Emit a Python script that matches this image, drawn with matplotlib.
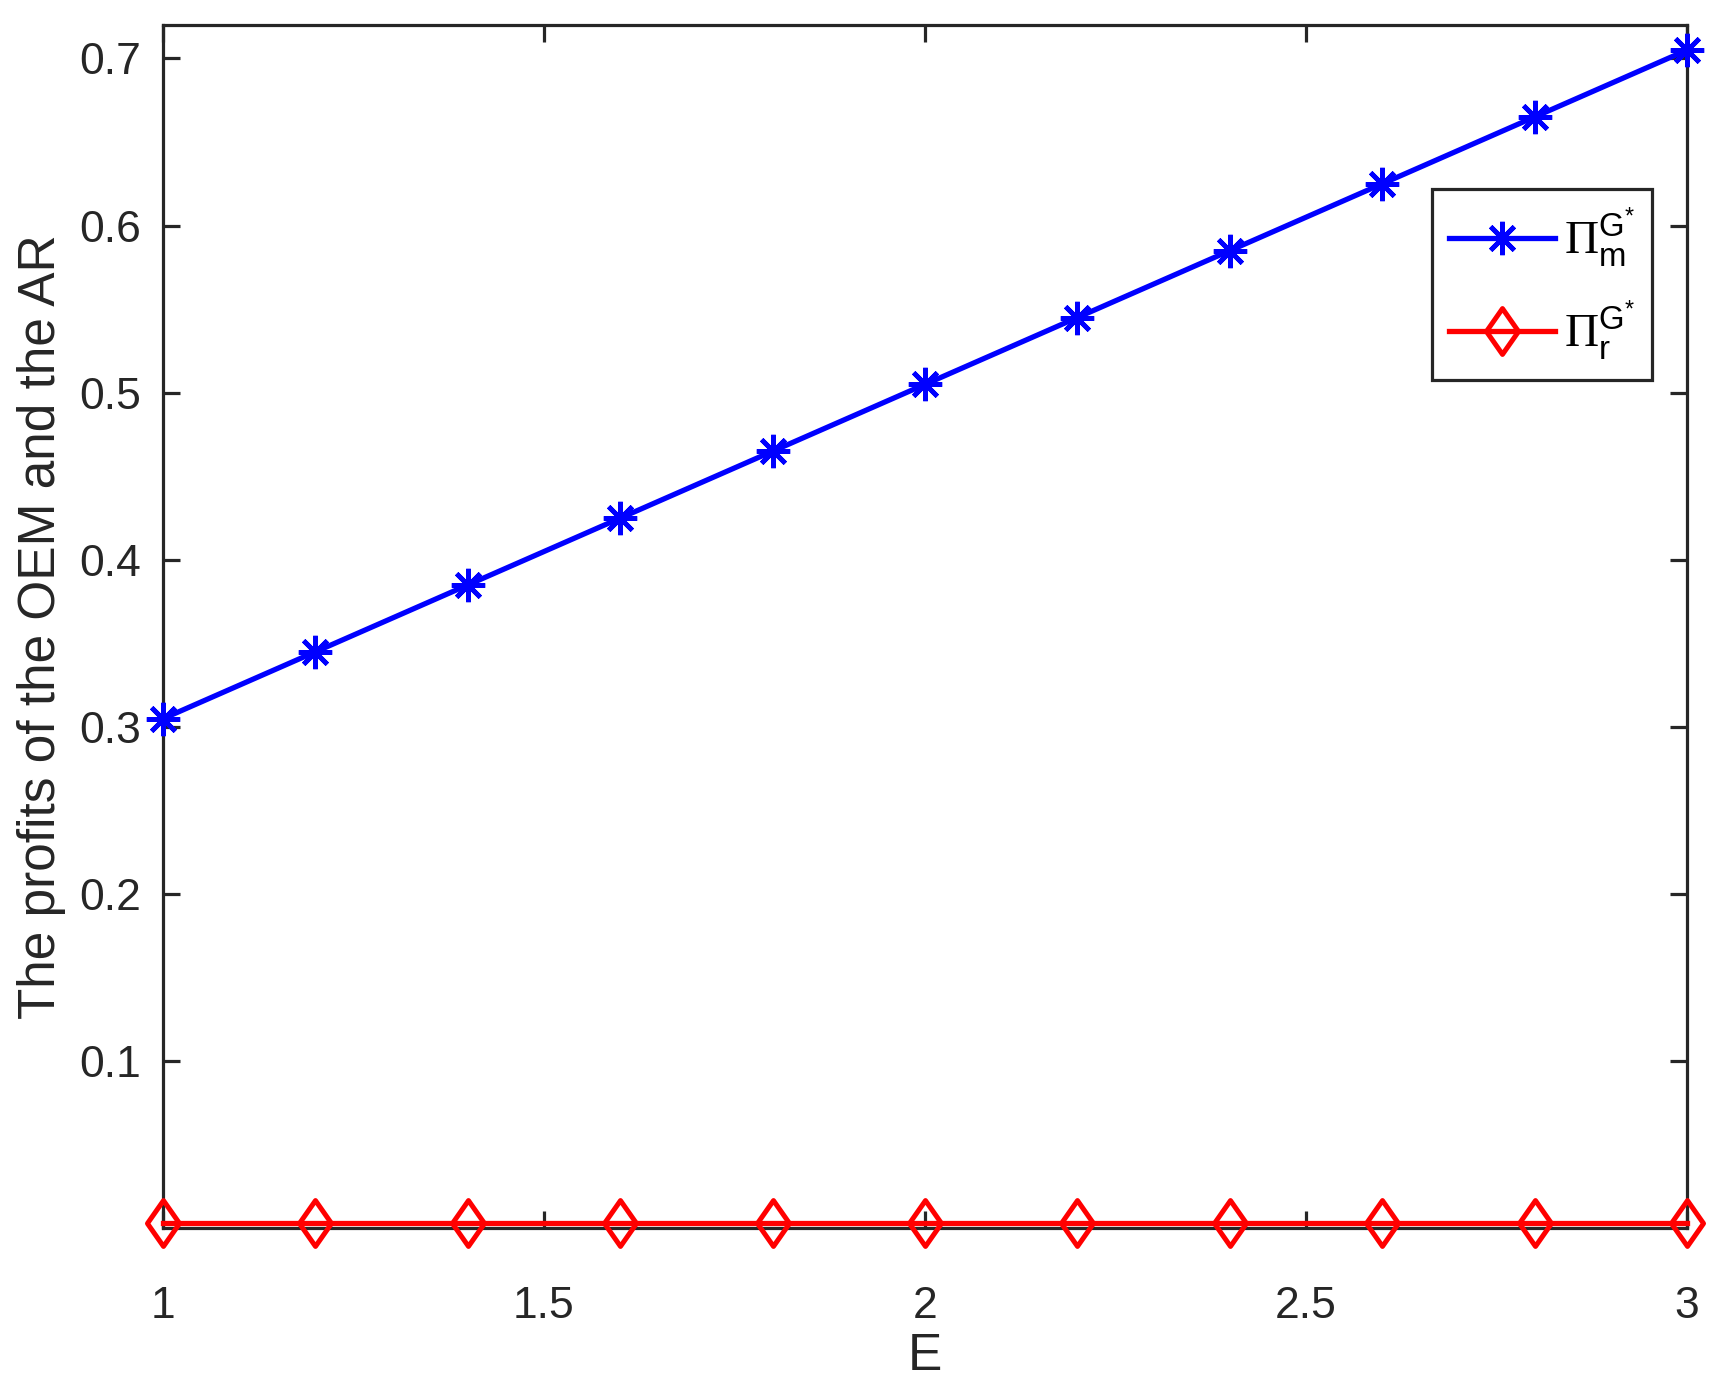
import matplotlib
matplotlib.use("Agg")
import matplotlib.pyplot as plt
import numpy as np
from matplotlib.path import Path

# ---- data ----
E = [1.0, 1.2, 1.4, 1.6, 1.8, 2.0, 2.2, 2.4, 2.6, 2.8, 3.0]
profit_m = [0.305, 0.345, 0.385, 0.425, 0.465, 0.505, 0.545, 0.585, 0.625, 0.665, 0.705]
profit_r = [0.0035, 0.0035, 0.0035, 0.0035, 0.0035, 0.0035, 0.0035, 0.0035, 0.0035, 0.0035, 0.0035]
xticks = [1, 1.5, 2, 2.5, 3]
xticklabels = ["1", "1.5", "2", "2.5", "3"]
yticks = [0.1, 0.2, 0.3, 0.4, 0.5, 0.6, 0.7]
yticklabels = ["0.1", "0.2", "0.3", "0.4", "0.5", "0.6", "0.7"]
label_m = r"$\mathcal{\Pi}_{\mathrm{m}}^{\mathrm{G}^{*}}$"
label_r = r"$\mathcal{\Pi}_{\mathrm{r}}^{\mathrm{G}^{*}}$"

plt.rcParams["font.family"] = ["Liberation Sans", "DejaVu Sans"]
plt.rcParams["mathtext.fontset"] = "custom"
plt.rcParams["mathtext.rm"] = "Liberation Sans"
plt.rcParams["mathtext.it"] = "Liberation Sans:italic"
plt.rcParams["mathtext.cal"] = "Liberation Serif"

axc = "#262626"
W, H = 1716, 1386
fig = plt.figure(figsize=(W / 100, H / 100), dpi=100)
ax = fig.add_axes([163 / W, 1 - 1228 / H, (1687 - 163) / W, (1228 - 25) / H])

diamond = Path([(0, 1), (0.7, 0), (0, -1), (-0.7, 0), (0, 1)],
               [Path.MOVETO, Path.LINETO, Path.LINETO, Path.LINETO, Path.CLOSEPOLY])

ax.plot(E, profit_m, color=(0, 0, 1), lw=3.8, marker=(8, 2, 0), ms=24, mew=3.4,
        label=label_m, clip_on=False, zorder=3)
ax.plot(E, profit_r, color=(1, 0, 0), lw=3.8, marker=diamond, ms=33, mew=3.6,
        mfc="none", label=label_r, clip_on=False, zorder=3)

ax.set_xlim(1, 3)
ax.set_ylim(0.0003, 0.72)
ax.set_xticks(xticks)
ax.set_xticklabels(xticklabels)
ax.set_yticks(yticks)
ax.set_yticklabels(yticklabels)

for s in ax.spines.values():
    s.set_color(axc)
    s.set_linewidth(2.3)
ax.tick_params(axis="both", direction="in", length=12, width=2.3, color=axc,
               labelcolor=axc, labelsize=32, top=True, right=True)
ax.tick_params(axis="x", pad=42)
ax.tick_params(axis="y", pad=16)

ax.set_xlabel("E", fontsize=37, color=axc, labelpad=3)
ax.set_ylabel("The profits of the OEM and the AR", fontsize=37, color=axc, labelpad=9)

leg = ax.legend(loc="upper left", bbox_to_anchor=(1432 / W, 1 - 189 / H),
                bbox_transform=fig.transFigure, borderaxespad=0, fontsize=34,
                fancybox=False, frameon=True, handlelength=2.25, handletextpad=0.2,
                borderpad=0.35, labelspacing=0.6)
fr = leg.get_frame()
fr.set_edgecolor(axc)
fr.set_linewidth(2.3)
fr.set_alpha(1)

fig.savefig("out.png", dpi=100)
